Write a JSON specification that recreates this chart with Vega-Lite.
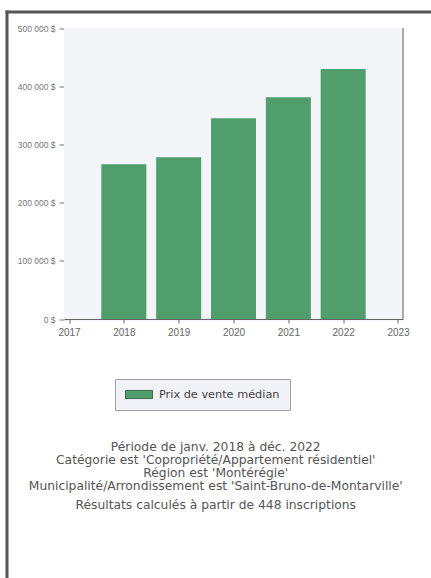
{
  "$schema": "https://vega.github.io/schema/vega-lite/v6.json",
  "autosize": {"type": "none"},
  "padding": {"left": 6.5, "top": 11.5, "right": 0, "bottom": 0},
  "width": 424.5,
  "height": 566.5,
  "background": "white",
  "view": {"stroke": null, "fill": null},
  "data": {
    "values": [
      {"year": 2018, "prix": 266000, "serie": "Prix de vente médian"},
      {"year": 2019, "prix": 278000, "serie": "Prix de vente médian"},
      {"year": 2020, "prix": 345000, "serie": "Prix de vente médian"},
      {"year": 2021, "prix": 381000, "serie": "Prix de vente médian"},
      {"year": 2022, "prix": 429500, "serie": "Prix de vente médian"}
    ]
  },
  "title": {
    "text": [
      "Période de janv. 2018 à déc. 2022",
      "Catégorie est 'Copropriété/Appartement résidentiel'",
      "Région est 'Montérégie'",
      "Municipalité/Arrondissement est 'Saint-Bruno-de-Montarville'"
    ],
    "subtitle": "Résultats calculés à partir de 448 inscriptions",
    "orient": "bottom",
    "anchor": "middle",
    "frame": "group",
    "dx": -3,
    "offset": -137,
    "font": "DejaVu Sans",
    "fontSize": 12.3,
    "fontWeight": "normal",
    "color": "#555555",
    "lineHeight": 13,
    "subtitleFont": "DejaVu Sans",
    "subtitleFontSize": 12.3,
    "subtitleColor": "#555555",
    "subtitlePadding": 7
  },
  "resolve": {
    "scale": {"x": "independent", "y": "independent"},
    "axis": {"x": "independent", "y": "independent"}
  },
  "layer": [
    {
      "mark": {"type": "point", "opacity": 0},
      "encoding": {
        "x": {
          "field": "year",
          "type": "quantitative",
          "scale": {"domain": [2017, 2023], "nice": false, "zero": false},
          "axis": {
            "orient": "top",
            "title": null,
            "labels": false,
            "ticks": false,
            "grid": false,
            "offset": 0,
            "domainColor": "#555555",
            "domainWidth": 3,
            "domainCap": "square"
          }
        },
        "y": {
          "field": "prix",
          "type": "quantitative",
          "scale": {"domain": [0, 500000], "nice": false},
          "axis": {
            "orient": "left",
            "title": null,
            "labels": false,
            "ticks": false,
            "grid": false,
            "offset": 0,
            "domainColor": "#555555",
            "domainWidth": 3,
            "domainCap": "square"
          }
        }
      }
    },
    {
      "mark": {"type": "rect", "fill": "#f4f5f9"},
      "encoding": {
        "x": {"datum": 2017, "type": "quantitative", "axis": null,
              "scale": {"domain": [2017, 2023], "nice": false, "zero": false, "range": [57.5, 396.5]}},
        "x2": {"datum": 2023},
        "y": {"datum": 0, "type": "quantitative", "axis": null,
              "scale": {"domain": [0, 500000], "nice": false, "range": [307.5, 16.5]}},
        "y2": {"datum": 500000}
      }
    },
    {
      "mark": {"type": "bar", "size": 45},
      "encoding": {
        "x": {
          "field": "year",
          "type": "quantitative",
          "title": null,
          "scale": {"domain": [2017, 2023], "nice": false, "zero": false, "range": [57.5, 396.5]},
          "axis": {
            "orient": "bottom",
            "offset": -259,
            "values": [2017, 2018, 2019, 2020, 2021, 2022, 2023],
            "format": "d",
            "grid": false,
            "labelFont": "Liberation Sans",
            "labelFontSize": 10,
            "labelColor": "#666666",
            "domainColor": "#666666",
            "tickColor": "#666666",
            "tickSize": 4,
            "labelPadding": 4
          }
        },
        "y": {
          "field": "prix",
          "type": "quantitative",
          "title": null,
          "scale": {"domain": [0, 500000], "nice": false, "range": [307.5, 16.5]},
          "axis": {
            "orient": "left",
            "offset": -57.5,
            "values": [0, 100000, 200000, 300000, 400000, 500000],
            "labelExpr": "replace(format(datum.value, ',d'), ',', ' ') + ' $'",
            "grid": true,
            "gridColor": "#e8eaf0",
            "labelFont": "Liberation Sans",
            "labelFontSize": 8.5,
            "labelColor": "#777777",
            "domainColor": "#777777",
            "tickColor": "#777777",
            "tickSize": 5,
            "labelPadding": 4
          }
        },
        "color": {
          "field": "serie",
          "type": "nominal",
          "scale": {"range": ["#4f9e6c"]},
          "legend": {
            "title": null,
            "orient": "none",
            "legendX": 108.5,
            "legendY": 367.5,
            "padding": 10,
            "clipHeight": 11,
            "strokeColor": "#a0a0a0",
            "fillColor": "#f1f2f7",
            "labelFont": "DejaVu Sans",
            "labelFontSize": 11.3,
            "labelColor": "#444444",
            "labelOffset": 6,
            "symbolType": "M-1,-0.3H1V0.3H-1Z",
            "symbolSize": 729,
            "symbolStrokeColor": "#3d6b4d",
            "symbolStrokeWidth": 1
          }
        }
      }
    },
    {
      "mark": {"type": "rule", "color": "#a8a8a8"},
      "encoding": {
        "x": {"datum": 2023, "type": "quantitative", "axis": null,
              "scale": {"domain": [2017, 2023], "nice": false, "zero": false, "range": [57.5, 396.5]}},
        "y": {"datum": 0, "type": "quantitative", "axis": null,
              "scale": {"domain": [0, 500000], "nice": false, "range": [307.5, 16.5]}},
        "y2": {"datum": 500000}
      }
    }
  ]
}
